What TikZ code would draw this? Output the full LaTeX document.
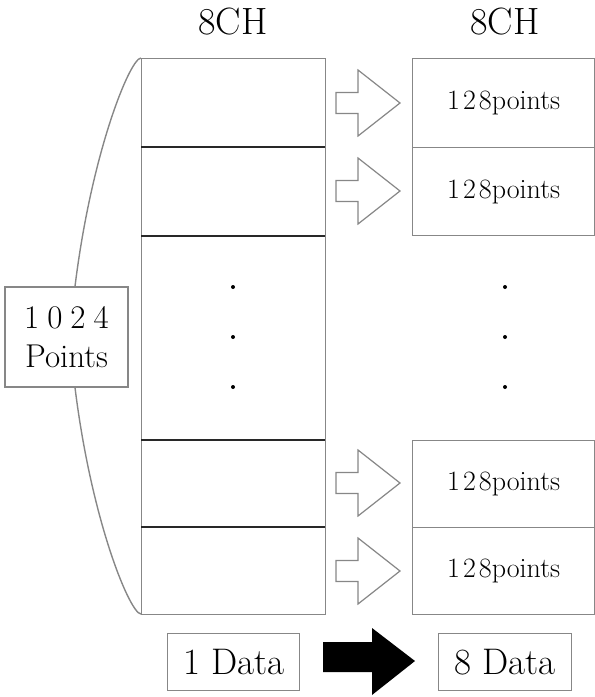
\documentclass[tikz,border=0pt]{standalone}
\definecolor{linegray}{RGB}{135,135,135}
\definecolor{darkline}{RGB}{40,40,40}
\begin{document}
\begin{tikzpicture}[x=1pt,y=-1pt,line width=1.4pt,
  box/.style={draw=linegray,fill=white,inner sep=0pt,anchor=north west},
  dotmark/.style={circle,fill=black,inner sep=0pt,minimum size=4pt},
  hollowarrow/.style={draw=linegray,fill=white,line width=1.2pt,line join=miter},
  headfont/.style={font=\fontsize{38}{40}\selectfont},
  ptsfont/.style={font=\fontsize{28}{30}\selectfont},
  datafont/.style={font=\fontsize{37}{40}\selectfont}]
\useasboundingbox (0,0) rectangle (595,697);

% headings
\node[headfont] (h1) at (233,22) {8CH};
\node[headfont] (h2) at (505,22) {8CH};

% brace curve
\draw[linegray] (141,58) .. controls (129,58) and (82,175) .. (70,337)
                        .. controls (82,499) and (129,614) .. (141,614);

% left column
\node[box,minimum width=184pt,minimum height=556pt] (col) at (141,58) {};
\draw[darkline] (141,147) -- (325,147);
\draw[darkline] (141,236) -- (325,236);
\draw[darkline] (141,440) -- (325,440);
\draw[darkline] (141,527) -- (325,527);

% right boxes
\node[box,minimum width=182pt,minimum height=89pt,ptsfont] (r1) at (412,58) {1\kern3pt 2\kern3pt 8points};
\node[box,minimum width=182pt,minimum height=88pt,ptsfont] (r2) at (412,147) {1\kern3pt 2\kern3pt 8points};
\node[box,minimum width=182pt,minimum height=87pt,ptsfont] (r3) at (412,440) {1\kern3pt 2\kern3pt 8points};
\node[box,minimum width=182pt,minimum height=87pt,ptsfont] (r4) at (412,527) {1\kern3pt 2\kern3pt 8points};

% dots
\foreach \yy [count=\i] in {287,337,387} {
  \node[dotmark] (ld\i) at (233,\yy) {};
  \node[dotmark] (rd\i) at (505,\yy) {};
}

% hollow arrows
\foreach \yc in {103,191,483,571} {
  \draw[hollowarrow] (336,\yc-10.5) -- (358,\yc-10.5) -- (358,\yc-33) -- (400,\yc)
        -- (358,\yc+33) -- (358,\yc+10.5) -- (336,\yc+10.5) -- cycle;
}

% 1024 Points label
\node[draw=linegray,fill=white,inner sep=0pt,minimum width=123pt,minimum height=100pt,
      align=center,font=\fontsize{33}{39}\selectfont] (pts) at (66.5,337)
      {1\kern8pt 0\kern8pt 2\kern8pt 4\\Points};

% bottom
\node[box,minimum width=132pt,minimum height=57pt,datafont] (d1) at (167,633) {1 Data};
\node[box,minimum width=133pt,minimum height=57pt,datafont] (d8) at (438,633) {8 Data};
\fill[black] (323,642) -- (372,642) -- (372,628) -- (415,661) -- (372,695) -- (372,672) -- (323,672) -- cycle;
\end{tikzpicture}
\end{document}
